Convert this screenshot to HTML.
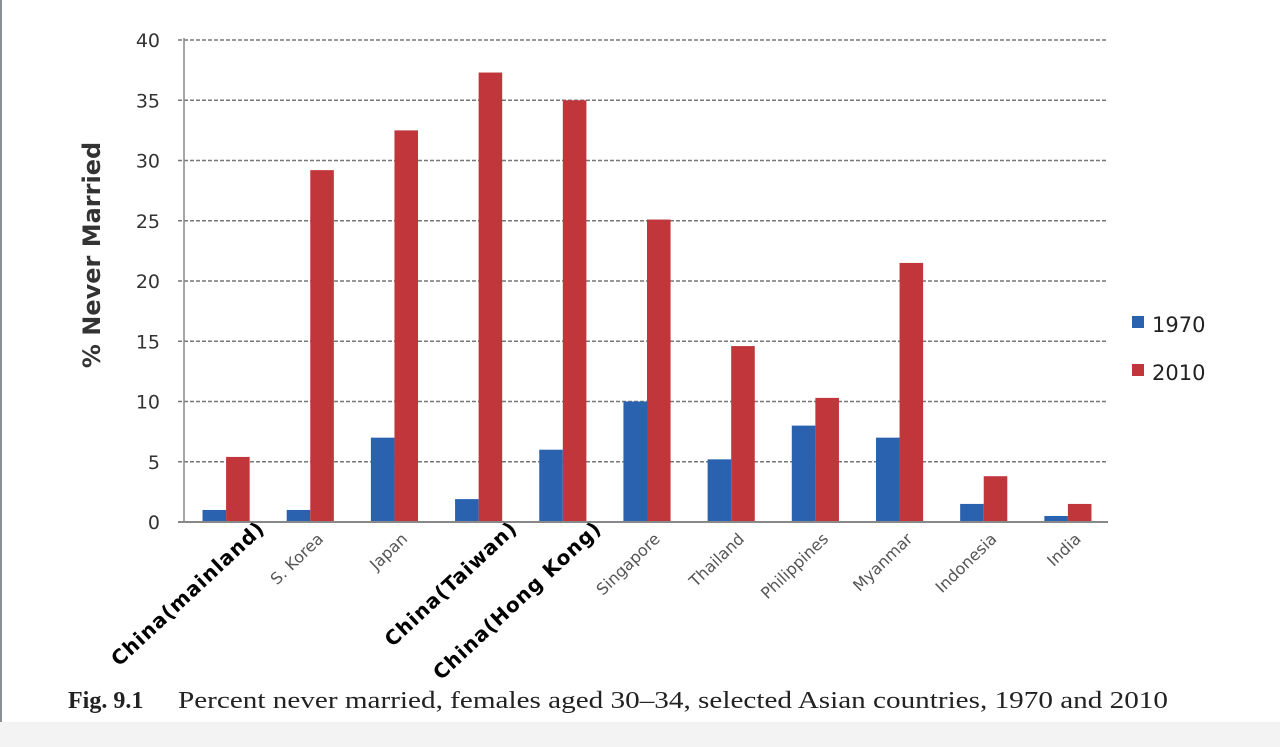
<!DOCTYPE html>
<html><head><meta charset="utf-8"><style>
html,body{margin:0;padding:0;background:#fff;width:1280px;height:747px;overflow:hidden}
</style></head><body>
<svg width="1280" height="747" xmlns="http://www.w3.org/2000/svg">
<rect x="0" y="0" width="2" height="722" fill="#8a8f96"/>
<rect x="0" y="722" width="1280" height="25" fill="#f3f3f3"/>
<g id="grid"></g>
<g id="bars"></g>
<g id="axes"></g>
<g id="labels"></g>
<text x="100" y="255" transform="rotate(-90 100 255)" text-anchor="middle" font-family="'DejaVu Sans','Liberation Sans',sans-serif" font-weight="bold" font-size="24" fill="#333">% Never Married</text>
<g>
<rect x="1132" y="316" width="12" height="12" fill="#2a62b0"/>
<text x="1152" y="332" font-family="'DejaVu Sans','Liberation Sans',sans-serif" font-size="21" fill="#222">1970</text>
<rect x="1132" y="364" width="12" height="12" fill="#c0363a"/>
<text x="1152" y="380" font-family="'DejaVu Sans','Liberation Sans',sans-serif" font-size="21" fill="#222">2010</text>
<rect x="1209" y="300" width="71" height="100" fill="#fff"/>
</g>
<text y="708" font-family="'Liberation Serif',serif" font-size="24" fill="#222"><tspan x="68" font-weight="bold">Fig. 9.1</tspan><tspan x="178" textLength="990" lengthAdjust="spacingAndGlyphs">Percent never married, females aged 30–34, selected Asian countries, 1970 and 2010</tspan></text>
</svg>
<script>
const categories=["China(mainland)","S. Korea","Japan","China(Taiwan)","China(Hong Kong)","Singapore","Thailand","Philippines","Myanmar","Indonesia","India"];
const overlaid=[true,false,false,true,true,false,false,false,false,false,false];
const values1970=[1,1,7,1.9,6,10,5.2,8,7,1.5,0.5];
const values2010=[5.4,29.2,32.5,37.3,35,25.1,14.6,10.3,21.5,3.8,1.5];
const yTicks=[0,5,10,15,20,25,30,35,40];
const NS="http://www.w3.org/2000/svg";
const x0=184,x1=1110,y0=522,y40=40;
const band=(x1-x0)/categories.length;
const y=v=>y0-(v/40)*(y0-y40);
const cx=i=>x0+band*(i+0.5);
function mk(tag,attrs,parent){const e=document.createElementNS(NS,tag);for(const k in attrs)e.setAttribute(k,attrs[k]);document.getElementById(parent).appendChild(e);return e;}
yTicks.forEach(t=>{
  if(t>0){const l=mk('line',{x1:178,x2:1108,y1:y(t),y2:y(t),stroke:'#777','stroke-width':1.5,'stroke-dasharray':'4,2'},'grid');
  
  }
  const tx=mk('text',{x:160,y:y(t)+7,'text-anchor':'end','font-family':"'DejaVu Sans','Liberation Sans',sans-serif",'font-size':19,fill:'#333'},'axes');
  tx.textContent=t;
  
  
});
const bw=band*0.28;
categories.forEach((c,i)=>{
  const b1=mk('rect',{x:cx(i)-bw,y:y(values1970[i]),width:bw,height:y0-y(values1970[i]),fill:'#2a62b0'},'bars');
  
  
  const b2=mk('rect',{x:cx(i),y:y(values2010[i]),width:bw,height:y0-y(values2010[i]),fill:'#c0363a'},'bars');
  
  
  let t;
  if(overlaid[i]){
    const ex=cx(i)+40,ey=530;
    t=mk('text',{x:ex,y:ey,'text-anchor':'end',transform:`rotate(-43 ${ex} ${ey})`,'font-family':"'DejaVu Sans','Liberation Sans',sans-serif",'font-size':20,'font-weight':'600',fill:'#000','letter-spacing':'1'},'labels');
  } else {
    const ex=cx(i)+14,ey=540;
    t=mk('text',{x:ex,y:ey,'text-anchor':'end',transform:`rotate(-44 ${ex} ${ey})`,'font-family':"'DejaVu Sans','Liberation Sans',sans-serif",'font-size':16,fill:'#555'},'labels');
  }
  t.textContent=c;
  
  
});
const ax=mk('line',{x1:x0,x2:x0,y1:38,y2:y0,stroke:'#888','stroke-width':1.5},'axes');


const bx=mk('line',{x1:178,x2:1108,y1:y0,y2:y0,stroke:'#888','stroke-width':2},'axes');


</script>
</body></html>
